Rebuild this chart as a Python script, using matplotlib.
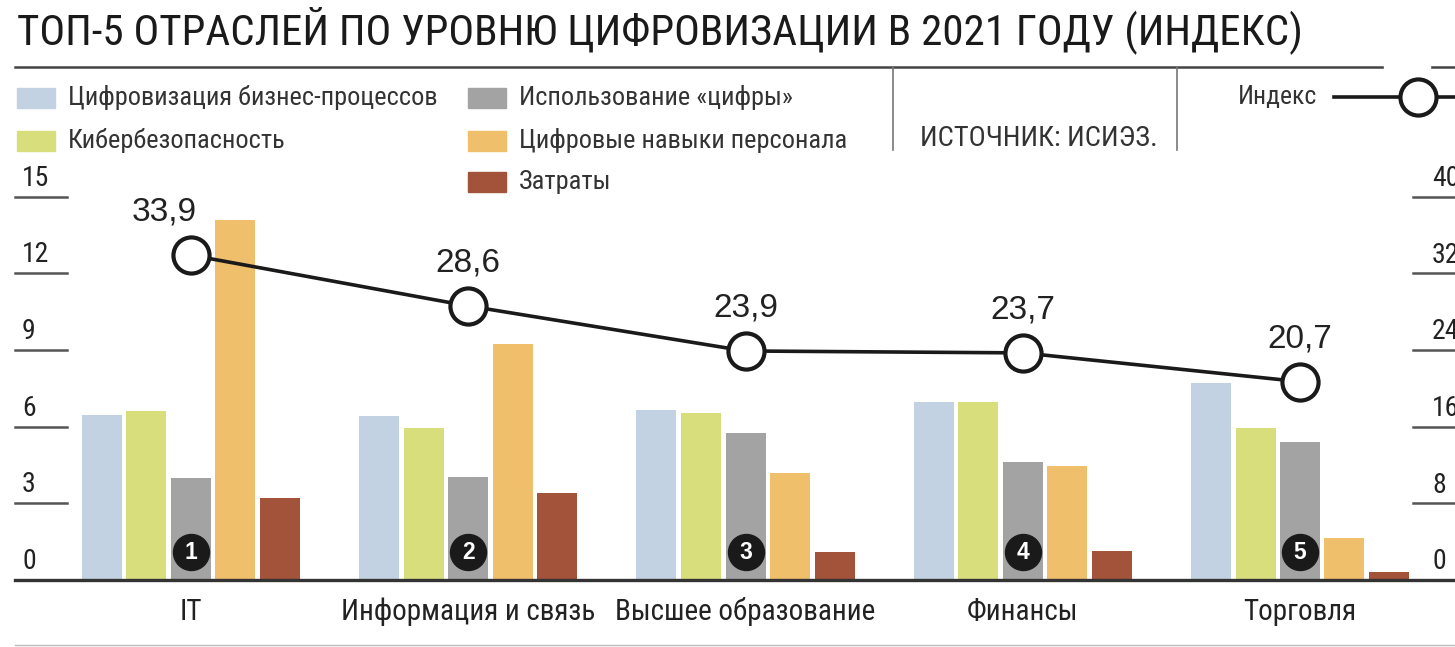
import numpy as np
import matplotlib
matplotlib.use("Agg")
import matplotlib.pyplot as plt
from matplotlib import font_manager as fm
from matplotlib.patches import Rectangle
from matplotlib.lines import Line2D

# data
categories = ["IT", "Информация и связь", "Высшее образование", "Финансы", "Торговля"]
series_names = ["Цифровизация бизнес-процессов", "Кибербезопасность", "Использование «цифры»",
                "Цифровые навыки персонала", "Затраты"]
business = [6.45, 6.4, 6.65, 6.95, 7.7]
cyber = [6.6, 5.95, 6.55, 6.95, 5.95]
usage = [4.0, 4.05, 5.75, 4.6, 5.4]
skills = [14.1, 9.25, 4.2, 4.45, 1.65]
costs = [3.2, 3.4, 1.1, 1.15, 0.3]
index = [33.9, 28.6, 23.9, 23.7, 20.7]
index_labels = ["33,9", "28,6", "23,9", "23,7", "20,7"]
ranks = ["1", "2", "3", "4", "5"]
left_ticks = [0, 3, 6, 9, 12, 15]
right_ticks = [0, 8, 16, 24, 32, 40]

colors = ["#c2d2e2", "#d9de7c", "#a3a3a3", "#f0bf6c", "#a2533a"]

names = {f.name for f in fm.fontManager.ttflist}
narrow = "Liberation Sans"
for cand in ["Liberation Sans Narrow", "Roboto Condensed", "Open Sans Condensed", "DejaVu Sans Condensed"]:
    if cand in names:
        narrow = cand
        break
regular = "Liberation Sans"
plt.rcParams["font.family"] = [narrow, "DejaVu Sans"]

W, H = 1455, 647
fig = plt.figure(figsize=(W / 100, H / 100), dpi=100)


def fx(px):
    return px / W


def fy(py):
    return 1 - py / H


# main axes: baseline at y=580 px, 15 at y=196.7 px, x from 15 to 1455 px
ax = fig.add_axes([fx(15), fy(580), fx(1455) - fx(15), (580 - 196.7) / H])
ax.set_ylim(0, 15)
step = 277.25
ax.set_xlim((15 - 191) / step, (1455 - 191) / step)
ax.axis("off")

x = np.arange(len(categories))
bw = 40 / step
off = 44.5 / step
for i, vals in enumerate([business, cyber, usage, skills, costs]):
    ax.bar(x + (i - 2) * off, vals, width=bw, color=colors[i], zorder=2, clip_on=False)

# baseline
ax.plot([0, 1], [0, 0], transform=ax.get_yaxis_transform(), color="#333333", lw=2.4,
        zorder=3, clip_on=False)

# left ticks
tw = 52 / 1440
for t in left_ticks[1:]:
    ax.plot([0, tw], [t, t], transform=ax.get_yaxis_transform(), color="#555555", lw=1.8,
            clip_on=False)
for t in left_ticks:
    ax.text(7 / 1440, t + 0.2, str(t), transform=ax.get_yaxis_transform(), ha="left",
            va="bottom", fontsize=20, color="#222222")

# category labels
for xi, c in zip(x, categories):
    ax.text(xi, -1.25, c, ha="center", va="center", fontsize=21, color="#222222")

# rank badges
ax.scatter(x, [1.08] * len(x), s=(36 * 0.72) ** 2, color="#1a1a1a", zorder=4, clip_on=False)
for xi, r in zip(x, ranks):
    ax.text(xi, 1.08, r, ha="center", va="center", fontsize=16.5, fontweight="bold",
            color="white", zorder=5, family=[regular, "DejaVu Sans"])

# index line on right scale
ax2 = ax.twinx()
ax2.set_ylim(0, 40)
ax2.set_xlim(ax.get_xlim())
ax2.axis("off")
ax2.plot(x, index, color="#1a1a1a", lw=2.6, marker="o", ms=26, mfc="white", mec="#1a1a1a",
         mew=3, zorder=6, clip_on=False)
for i, (xi, v, lab) in enumerate(zip(x, index, index_labels)):
    dx = -19 if i == 0 else 0
    ax2.annotate(lab, (xi, v), xytext=(dx, 31), textcoords="offset points", ha="center",
                 va="center", fontsize=24, color="#222222", family=[regular, "DejaVu Sans"])

# right ticks (labels run off the right edge, as in the source)
rt0 = (1413 - 15) / 1440
for t in right_ticks[1:]:
    ax2.plot([rt0, 1], [t, t], transform=ax2.get_yaxis_transform(), color="#555555", lw=1.8,
             clip_on=False)
for t in right_ticks:
    ax2.text((1432 - 15) / 1440, t + 0.5, str(t), transform=ax2.get_yaxis_transform(),
             ha="left", va="bottom", fontsize=20, color="#222222")

# title
fig.text(fx(17), fy(30), "ТОП-5 ОТРАСЛЕЙ ПО УРОВНЮ ЦИФРОВИЗАЦИИ В 2021 ГОДУ (ИНДЕКС)",
         ha="left", va="center", fontsize=31, color="#1a1a1a")

# top rule and separators
fig.add_artist(Line2D([fx(15), 1], [fy(67), fy(67)], color="#444444", lw=1.8))
for sx in [893, 1177]:
    fig.add_artist(Line2D([fx(sx), fx(sx)], [fy(67), fy(150)], color="#777777", lw=1.2))
fig.add_artist(Line2D([fx(15), 1], [fy(645), fy(645)], color="#bbbbbb", lw=1.0))

# legend
legend_pos = [(17, 98), (17, 141), (468, 98), (468, 141), (468, 182)]
for (lx, ly), name, col in zip(legend_pos, series_names, colors):
    fig.add_artist(Rectangle((fx(lx), fy(ly + 10)), 38 / W, 20 / H, color=col,
                             transform=fig.transFigure))
    fig.text(fx(lx + 51), fy(ly), name, ha="left", va="center", fontsize=19, color="#333333")

fig.text(fx(920), fy(138), "ИСТОЧНИК: ИСИЭЗ.", ha="left", va="center", fontsize=20.5,
         color="#333333")
fig.text(fx(1238), fy(97), "Индекс", ha="left", va="center", fontsize=18.5, color="#333333")
fig.add_artist(Line2D([fx(1334), 1], [fy(97), fy(97)], color="#1a1a1a", lw=2.6))
fig.add_artist(Line2D([fx(1418)], [fy(97)], marker="o", ms=26, mfc="white", mec="#1a1a1a",
                      mew=3))

# expand icon overlay in the corner
fig.add_artist(Rectangle((fx(1384), fy(68)), 46 / W, 46 / H, color="white",
                         transform=fig.transFigure, zorder=10))

fig.savefig("out.png", dpi=100)
